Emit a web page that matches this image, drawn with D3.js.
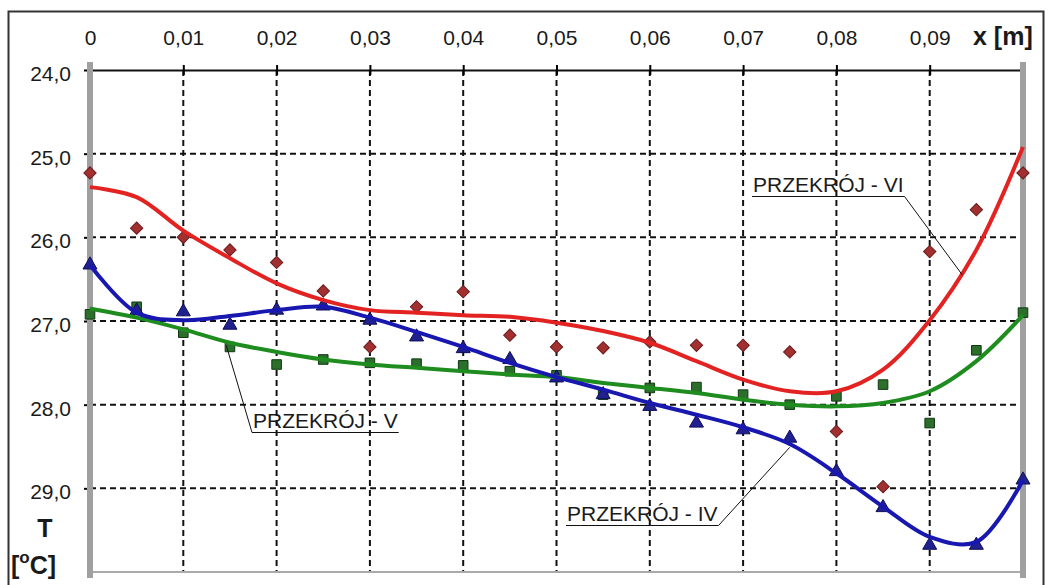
<!DOCTYPE html>
<html>
<head>
<meta charset="utf-8">
<script src="https://cdn.jsdelivr.net/npm/d3@7"></script>
<style>
  body { margin: 0; background: #fff; }
  text { font-family: Arial, "Liberation Sans", sans-serif; fill: #1a1a1a; }
</style>
</head>
<body>
<svg width="1050" height="585"></svg>
<script>
// pozycje pomiarowe x [m]
const xs = [0, 0.005, 0.01, 0.015, 0.02, 0.025, 0.03, 0.035, 0.04, 0.045, 0.05,
            0.055, 0.06, 0.065, 0.07, 0.075, 0.08, 0.085, 0.09, 0.095, 0.1];

const xTicks = [0, 0.01, 0.02, 0.03, 0.04, 0.05, 0.06, 0.07, 0.08, 0.09];
const xTickLabels = ["0", "0,01", "0,02", "0,03", "0,04", "0,05", "0,06", "0,07", "0,08", "0,09"];
const yTicks = [24, 25, 26, 27, 28, 29];
const yTickLabels = ["24,0", "25,0", "26,0", "27,0", "28,0", "29,0"];

// punkty pomiarowe T [°C]
const pointsVI = [25.23, 25.89, 26.0, 26.15, 26.3, 26.64, 27.31, 26.83, 26.65, 27.17, 27.31,
                  27.32, 27.25, 27.29, 27.29, 27.37, 28.32, 28.98, 26.17, 25.67, 25.23];
const pointsV  = [26.92, 26.83, 27.14, 27.31, 27.52, 27.46, 27.5, 27.51, 27.53, 27.6, 27.65,
                  27.88, 27.8, 27.79, 27.88, 28.0, 27.9, 27.76, 28.22, 27.35, 26.9];
const pointsIV = [26.33, 26.88, 26.89, 27.05, 26.87, 26.82, 26.99, 27.19, 27.33, 27.46, 27.68,
                  27.88, 28.02, 28.22, 28.3, 28.4, 28.8, 29.23, 29.68, 29.68, 28.9];

// linie trendu
const curveVI = [25.4, 25.52, 25.92, 26.25, 26.55, 26.75, 26.87, 26.9, 26.93, 26.95, 27.02,
                 27.12, 27.26, 27.48, 27.7, 27.84, 27.84, 27.58, 26.99, 26.15, 24.92];
const curveV  = [26.85, 26.96, 27.1, 27.26, 27.37, 27.46, 27.52, 27.56, 27.6, 27.64, 27.67,
                 27.74, 27.8, 27.86, 27.94, 28.0, 28.02, 27.98, 27.84, 27.48, 26.93];
const curveIV = [26.33, 26.9, 26.99, 26.94, 26.87, 26.83, 26.96, 27.13, 27.31, 27.5, 27.67,
                 27.82, 27.98, 28.12, 28.27, 28.47, 28.82, 29.22, 29.58, 29.64, 28.9];

const seriesNames = ["PRZEKRÓJ - VI", "PRZEKRÓJ - V", "PRZEKRÓJ - IV"];

const svg = d3.select("svg");

const x = d3.scaleLinear().domain([0, 0.1]).range([90, 1023]);
const y = d3.scaleLinear().domain([24, 30]).range([70, 572]);

// ramka
svg.append("rect")
    .attr("x", 8.5).attr("y", 11.5)
    .attr("width", 1035).attr("height", 600)
    .attr("fill", "none").attr("stroke", "#333").attr("stroke-width", 2);

// siatka
svg.append("g").selectAll("line")
    .data(yTicks.slice(1))
    .enter().append("line")
    .attr("x1", x(0)).attr("x2", x(0.1))
    .attr("y1", d => y(d)).attr("y2", d => y(d))
    .attr("stroke", "#111").attr("stroke-width", 2).attr("stroke-dasharray", "6,4");

svg.append("g").selectAll("line")
    .data(xTicks.slice(1))
    .enter().append("line")
    .attr("x1", d => x(d)).attr("x2", d => x(d))
    .attr("y1", y(24)).attr("y2", y(30))
    .attr("stroke", "#111").attr("stroke-width", 2).attr("stroke-dasharray", "6,4");

// dolna krawedz
svg.append("line")
    .attr("x1", x(0)).attr("x2", x(0.1))
    .attr("y1", y(30)).attr("y2", y(30))
    .attr("stroke", "#aaa").attr("stroke-width", 2);

// os gorna
const xAxis = svg.append("g")
    .attr("transform", `translate(0,${y(24)})`)
    .call(d3.axisTop(x).tickValues(xTicks)
        .tickFormat((d, i) => xTickLabels[i])
        .tickSize(5).tickSizeOuter(0).tickPadding(20));
xAxis.select(".domain").attr("stroke", "#111").attr("stroke-width", 2);
xAxis.selectAll(".tick line").attr("y1", 5).attr("y2", -5).attr("stroke-width", 2);
xAxis.selectAll(".tick text").attr("font-size", 21).attr("fill", "#1a1a1a")
    .style("font-family", "Arial, 'Liberation Sans', sans-serif");

// os lewa
const yAxis = svg.append("g")
    .attr("transform", `translate(${x(0)},0)`)
    .call(d3.axisLeft(y).tickValues(yTicks)
        .tickFormat((d, i) => yTickLabels[i])
        .tickSize(6).tickSizeOuter(0).tickPadding(13));
yAxis.select(".domain").remove();
yAxis.selectAll(".tick line").attr("stroke-width", 2);
yAxis.selectAll(".tick text").attr("font-size", 21).attr("dy", "0.5em").attr("fill", "#1a1a1a")
    .style("font-family", "Arial, 'Liberation Sans', sans-serif");

// szare pionowe krawedzie
svg.append("g").selectAll("rect")
    .data([0, 0.1])
    .enter().append("rect")
    .attr("x", d => x(d) - 3).attr("width", 6)
    .attr("y", y(24) - 8).attr("height", y(30) - y(24) + 14)
    .attr("fill", "#a0a0a0");

// opisy osi
svg.append("text").attr("x", 973).attr("y", 45)
    .attr("font-size", 25).attr("font-weight", "bold").text("x [m]");
svg.append("text").attr("x", 45).attr("y", 537).attr("text-anchor", "middle")
    .attr("font-size", 25).attr("font-weight", "bold").text("T");
const unit = svg.append("text").attr("x", 11).attr("y", 574)
    .attr("font-size", 25).attr("font-weight", "bold");
unit.append("tspan").text("[");
unit.append("tspan").attr("font-size", 17).attr("dy", -11).text("o");
unit.append("tspan").attr("dy", 11).text("C]");

// serie
const series = [
    { name: seriesNames[0], pts: pointsVI, fit: curveVI, line: "#e32222", fill: "#a23030", stroke: "#6a1a1a", sym: "diamond" },
    { name: seriesNames[1], pts: pointsV,  fit: curveV,  line: "#1e8c1e", fill: "#2c6e2c", stroke: "#103810", sym: "square" },
    { name: seriesNames[2], pts: pointsIV, fit: curveIV, line: "#1818b0", fill: "#20208e", stroke: "#0e0e58", sym: "triangle" }
];

const symbols = {
    diamond: d3.symbol().type(d3.symbolSquare).size(76),
    square: d3.symbol().type(d3.symbolSquare).size(92),
    triangle: d3.symbol().type(d3.symbolTriangle).size(85)
};

series.forEach(s => {
    svg.append("g").selectAll("path")
        .data(s.pts)
        .enter().append("path")
        .attr("d", symbols[s.sym])
        .attr("transform", (d, i) => `translate(${x(xs[i])},${y(d)})` + (s.sym === "diamond" ? " rotate(45)" : ""))
        .attr("fill", s.fill).attr("stroke", s.stroke).attr("stroke-width", 1);
});

const line = d3.line()
    .x((d, i) => x(xs[i]))
    .y(d => y(d))
    .curve(d3.curveCatmullRom.alpha(0.5));

[series[1], series[2], series[0]].forEach(s => {
    svg.append("path")
        .datum(s.fit)
        .attr("d", line)
        .attr("fill", "none")
        .attr("stroke", s.line)
        .attr("stroke-width", 4)
        .attr("stroke-linejoin", "round");
});

// etykiety z odnosnikami
const notes = [
    { name: seriesNames[0], anchor: [0.0935, 26.45], tx: 753, ty: 192, end: "right" },
    { name: seriesNames[1], anchor: [0.0146, 27.29], tx: 253, ty: 428, end: "left" },
    { name: seriesNames[2], anchor: [0.075, 28.51], tx: 567, ty: 521, end: "right" }
];

notes.forEach(n => {
    const t = svg.append("text")
        .attr("x", n.tx).attr("y", n.ty)
        .attr("font-size", 21).text(n.name);
    const w = t.node().getComputedTextLength();
    const uy = n.ty + 4.5;
    svg.append("line")
        .attr("x1", n.tx - 1).attr("x2", n.tx + w + 1)
        .attr("y1", uy).attr("y2", uy)
        .attr("stroke", "#111").attr("stroke-width", 1.2);
    const sx = n.end === "right" ? n.tx + w + 1 : n.tx - 1;
    svg.append("line")
        .attr("x1", sx).attr("y1", uy)
        .attr("x2", x(n.anchor[0])).attr("y2", y(n.anchor[1]))
        .attr("stroke", "#111").attr("stroke-width", 1);
});
</script>
</body>
</html>
